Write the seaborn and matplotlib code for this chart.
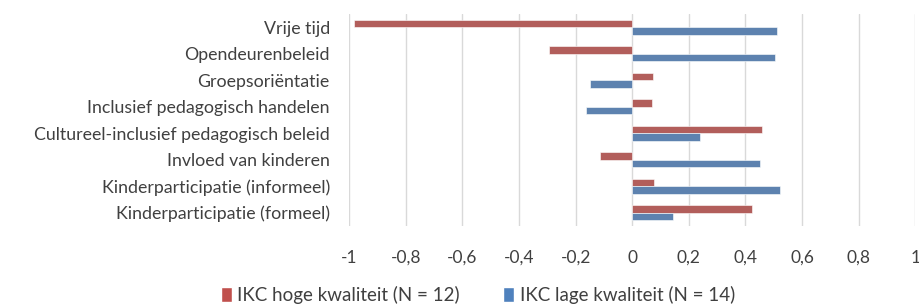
import numpy as np
import pandas as pd
import matplotlib
matplotlib.use('Agg')
import matplotlib.pyplot as plt
import seaborn as sns
from matplotlib.patches import Patch

categories = [
    'Vrije tijd',
    'Opendeurenbeleid',
    'Groepsoriëntatie',
    'Inclusief pedagogisch handelen',
    'Cultureel-inclusief pedagogisch beleid',
    'Invloed van kinderen',
    'Kinderparticipatie (informeel)',
    'Kinderparticipatie (formeel)',
]
hoog = [-0.982, -0.293, 0.072, 0.068, 0.457, -0.113, 0.075, 0.422]
laag = [0.511, 0.504, -0.149, -0.165, 0.238, 0.450, 0.523, 0.145]
series = ['IKC hoge kwaliteit (N = 12)', 'IKC lage kwaliteit (N = 14)']
tick_values = [-1, -0.8, -0.6, -0.4, -0.2, 0, 0.2, 0.4, 0.6, 0.8, 1]
tick_labels = ['-1', '-0,8', '-0,6', '-0,4', '-0,2', '0', '0,2', '0,4', '0,6', '0,8', '1']

colors = ['#C0504D', '#4F81BD']

df = pd.DataFrame({
    'categorie': categories * 2,
    'waarde': hoog + laag,
    'groep': [series[0]] * len(categories) + [series[1]] * len(categories),
})

sns.set_theme(style='white')
plt.rcParams['font.family'] = ['Lato', 'DejaVu Sans']

fig = plt.figure(figsize=(9.19, 3.07), dpi=100)
ax = fig.add_axes([0.380, 0.264, 0.616, 0.690])

sns.barplot(data=df, x='waarde', y='categorie', hue='groep', orient='h',
            palette=colors, width=0.56, ax=ax, legend=False,
            edgecolor='white', linewidth=0.4)

ax.set_xlim(-1, 1)
ax.set_xticks(tick_values)
ax.set_xticklabels(tick_labels)
ax.grid(axis='x', color='#d9d9d9', linewidth=1)
ax.set_axisbelow(True)
for s in ax.spines.values():
    s.set_visible(False)
ax.set_xlabel('')
ax.set_ylabel('')
ax.tick_params(axis='x', labelsize=12.5, colors='#404040', pad=17, length=0)
ax.tick_params(axis='y', labelsize=12.8, colors='#404040', pad=14, length=0)

handles = [Patch(facecolor=c, label=l) for c, l in zip(colors, series)]
fig.legend(handles=handles, loc='lower center', bbox_to_anchor=(0.52, -0.045),
           ncol=2, frameon=False, fontsize=13.5, handlelength=0.6, handleheight=0.8,
           handletextpad=0.3, columnspacing=2.3, labelcolor='#404040')

fig.savefig('out.png', dpi=100)
